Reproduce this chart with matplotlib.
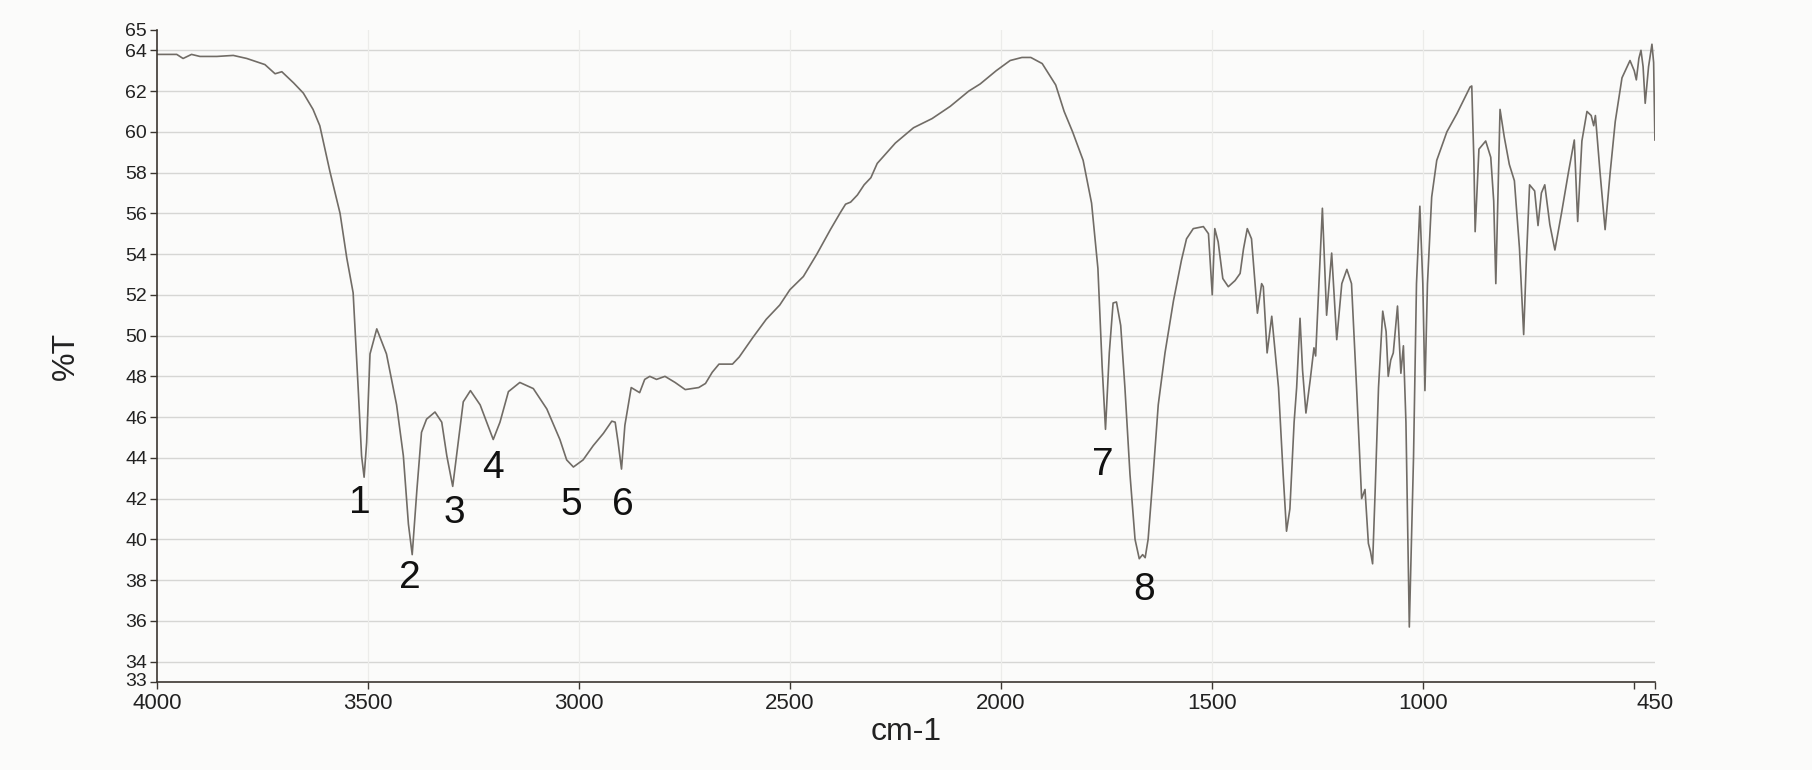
import matplotlib
matplotlib.use('Agg')
from matplotlib import pyplot as plt
from matplotlib.transforms import ScaledTranslation

plt.rcParams['font.family'] = ['Liberation Sans', 'DejaVu Sans']

# IR spectrum (wavenumber in cm-1, %T)
wavenumber = [
    4000, 3953, 3938, 3918, 3898, 3858, 3819, 3787, 3744, 3720, 3704, 3676, 3653,
    3630, 3614, 3590, 3566, 3550, 3535, 3523, 3515, 3509, 3503, 3495, 3479, 3456,
    3432, 3416, 3404, 3395, 3384, 3373, 3361, 3341, 3325, 3313, 3299, 3286, 3274,
    3257, 3234, 3203, 3187, 3167, 3140, 3108, 3076, 3045, 3029, 3013, 2990, 2966,
    2942, 2922, 2914, 2907, 2899, 2891, 2876, 2864, 2856, 2844, 2832, 2816, 2796,
    2772, 2748, 2716, 2700, 2684, 2668, 2636, 2620, 2588, 2556, 2524, 2500, 2468,
    2436, 2404, 2380, 2368, 2356, 2340, 2324, 2308, 2293, 2250, 2207, 2163, 2120,
    2076, 2049, 2011, 1978, 1950, 1929, 1902, 1870, 1850, 1830, 1805, 1785, 1770,
    1760, 1752, 1743, 1734, 1726, 1716, 1706, 1694, 1682, 1672, 1664, 1658, 1651,
    1639, 1627, 1611, 1591, 1572, 1560, 1544, 1520, 1508, 1499, 1493, 1485, 1474,
    1461, 1445, 1433, 1425, 1416, 1406, 1392, 1382, 1378, 1369, 1358, 1342, 1331,
    1323, 1315, 1305, 1299, 1291, 1285, 1277, 1267, 1258, 1254, 1248, 1238, 1228,
    1216, 1204, 1192, 1180, 1169, 1157, 1145, 1137, 1129, 1124, 1119, 1113, 1105,
    1095, 1087, 1082, 1076, 1070, 1060, 1052, 1046, 1040, 1032, 1022, 1015, 1007,
    1000, 995, 989, 979, 967, 943, 919, 888, 884, 879, 876, 867, 851, 839, 832,
    827, 817, 807, 795, 783, 771, 761, 755, 747, 735, 727, 719, 711, 699, 687,
    671, 655, 641, 633, 623, 611, 601, 595, 591, 580, 568, 556, 544, 528, 509,
    499, 494, 488, 483, 478, 473, 465, 457, 453, 450,
]
transmittance = [
    63.8, 63.8, 63.6, 63.8, 63.7, 63.7, 63.75, 63.6, 63.3, 62.85, 62.95, 62.4, 61.9,
    61.1, 60.3, 58.05, 56.0, 53.8, 52.1, 47.4, 44.1, 43.05, 44.75, 49.1, 50.33, 49.1,
    46.6, 44.1, 40.75, 39.25, 42.4, 45.25, 45.9, 46.25, 45.75, 44.1, 42.6, 44.75, 46.75,
    47.3, 46.6, 44.9, 45.75, 47.25, 47.7, 47.4, 46.4, 44.9, 43.9, 43.55, 43.9, 44.6,
    45.2, 45.8, 45.75, 44.75, 43.45, 45.6, 47.45, 47.3, 47.2, 47.85, 48.0, 47.85, 48.0,
    47.7, 47.35, 47.45, 47.65, 48.2, 48.6, 48.6, 48.95, 49.9, 50.8, 51.5, 52.25, 52.9,
    54.0, 55.2, 56.05, 56.45, 56.55, 56.9, 57.4, 57.75, 58.45, 59.45, 60.2, 60.65, 61.25,
    62.0, 62.35, 63.0, 63.5, 63.65, 63.65, 63.35, 62.3, 61.0, 60.0, 58.6, 56.5, 53.3,
    48.5, 45.4, 49.15, 51.6, 51.65, 50.5, 47.45, 43.2, 40.0, 39.05, 39.25, 39.1, 40.0,
    43.2, 46.6, 49.15, 51.7, 53.7, 54.75, 55.25, 55.35, 55.0, 52.0, 55.25, 54.6, 52.8,
    52.4, 52.7, 53.05, 54.25, 55.25, 54.75, 51.1, 52.55, 52.4, 49.15, 50.95, 47.45, 43.2,
    40.4, 41.5, 45.75, 47.45, 50.85, 48.3, 46.2, 47.8, 49.4, 49.0, 51.7, 56.25, 51.0,
    54.05, 49.8, 52.55, 53.25, 52.55, 47.45, 42.0, 42.45, 39.8, 39.4, 38.8, 42.35, 47.45,
    51.2, 50.2, 48.0, 48.8, 49.15, 51.45, 48.15, 49.5, 45.75, 35.7, 44.05, 52.55, 56.35,
    52.55, 47.3, 52.55, 56.8, 58.6, 60.0, 60.9, 62.2, 62.25, 58.6, 55.1, 59.15, 59.55, 58.75, 56.6,
    52.55, 61.1, 59.75, 58.4, 57.6, 54.3, 50.05, 53.5, 57.4, 57.1, 55.4, 57.0, 57.4, 55.45, 54.2,
    56.05, 58.0, 59.6, 55.6, 59.55, 61.0, 60.8, 60.3, 60.8, 58.0, 55.2, 58.0, 60.5, 62.65, 63.5,
    63.0, 62.55, 63.6, 64.0, 63.2, 61.4, 63.2, 64.3, 63.4, 59.6,
]

# numbered peak labels
peak_labels = ['1', '2', '3', '4', '5', '6', '7', '8']
label_wn = [3519, 3400, 3296, 3204, 3019, 2896, 1758, 1661]
label_t = [41.8, 38.1, 41.3, 43.5, 41.7, 41.7, 43.65, 37.5]

x_ticks = [4000, 3500, 3000, 2500, 2000, 1500, 1000, 500, 450]
x_tick_labels = ['4000', '3500', '3000', '2500', '2000', '1500', '1000', '', '450']
y_ticks = [33, 34, 36, 38, 40, 42, 44, 46, 48, 50, 52, 54, 56, 58, 60, 62, 64, 65]
y_grid = [34, 36, 38, 40, 42, 44, 46, 48, 50, 52, 54, 56, 58, 60, 62, 64]

fig = plt.figure(figsize=(18.12, 7.7), dpi=100)
fig.patch.set_facecolor('#fbfbfa')
ax = fig.add_axes([0.0866, 0.1143, 0.8267, 0.8468])
ax.set_facecolor('#fbfbfa')

for g in y_grid:
    ax.axhline(g, color='#d6d6d4', lw=1.0, zorder=0)
for g in x_ticks[1:-2]:
    ax.axvline(g, color='#ececea', lw=0.9, zorder=0)

ax.plot(wavenumber, transmittance, color='#716c66', lw=1.2, zorder=2)

for lab, xw, yt in zip(peak_labels, label_wn, label_t):
    ax.text(xw, yt, lab, fontsize=28, ha='center', va='center', color='#111111')

ax.set_xlim(4000, 450)
ax.set_ylim(33, 65)
ax.set_xticks(x_ticks)
ax.set_xticklabels(x_tick_labels)
ax.set_yticks(y_ticks)
ax.tick_params(axis='both', direction='out', length=5, width=1, color='#3b3631',
               labelcolor='#222222', pad=2)
ax.tick_params(axis='x', labelsize=16, pad=3)
ax.tick_params(axis='y', labelsize=14)

# '33' sits right on top of '4000': lift it a hair
lab33 = ax.get_yticklabels()[0]
lab33.set_transform(lab33.get_transform() + ScaledTranslation(0, 1.5 / 72, fig.dpi_scale_trans))

for side in ['top', 'right']:
    ax.spines[side].set_visible(False)
for side in ['left', 'bottom']:
    ax.spines[side].set_color('#3b3631')
    ax.spines[side].set_linewidth(1.2)

ax.set_xlabel('cm-1', fontsize=23, color='#222222', labelpad=2)
ax.set_ylabel('%T', fontsize=23, color='#222222', labelpad=32)

fig.savefig('out.png', dpi=100, facecolor=fig.get_facecolor())
